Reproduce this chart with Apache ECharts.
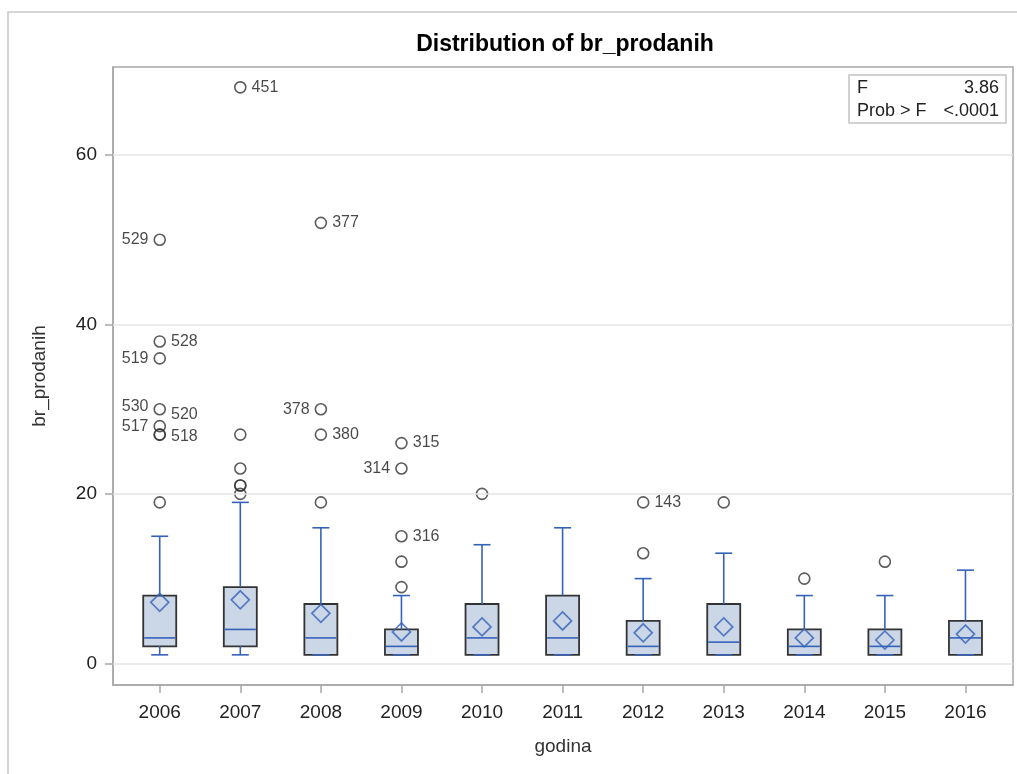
<!DOCTYPE html>
<html>
<head>
<meta charset="utf-8">
<title>Distribution of br_prodanih</title>
<script src="https://cdn.jsdelivr.net/npm/echarts@6/dist/echarts.min.js"></script>
<style>
  html, body { margin: 0; padding: 0; background: #fff; }
  #boxChart { width: 1017px; height: 774px; }
</style>
</head>
<body>
<div id="boxChart"></div>
<script>
// ---- data ----
const years = ['2006', '2007', '2008', '2009', '2010', '2011', '2012', '2013', '2014', '2015', '2016'];
const whiskerLow  = [1, 1, 1, 1, 1, 1, 1, 1, 1, 1, 1];
const q1          = [2, 2, 1, 1, 1, 1, 1, 1, 1, 1, 1];
const median      = [3, 4, 3, 2, 3, 3, 2, 2.5, 2, 2, 3];
const q3          = [8, 9, 7, 4, 7, 8, 5, 7, 4, 4, 5];
const whiskerHigh = [15, 19, 16, 8, 14, 16, 10, 13, 8, 8, 11];
const means       = [7.2, 7.5, 5.9, 3.7, 4.3, 5.0, 3.6, 4.3, 3.0, 2.75, 3.45];

// outliers: category index, value, observation id ('' = not labelled)
const outlierYear  = [0, 0, 0, 0, 0, 0, 0, 0, 1, 1, 1, 1, 1, 1, 2, 2, 2, 2, 3, 3, 3, 3, 3, 4, 6, 6, 7, 8, 9];
const outlierValue = [50, 38, 36, 30, 28, 27, 27, 19, 68, 27, 23, 21, 21, 20, 52, 30, 27, 19, 26, 23, 15, 12, 9, 20, 19, 13, 19, 10, 12];
const outlierId    = ['529', '528', '519', '530', '517', '520', '518', '', '451', '', '', '', '', '', '377', '378', '380', '', '315', '314', '316', '', '', '', '143', '', '', '', ''];

const yTicks = [0, 20, 40, 60];
const statNames  = ['F', 'Prob > F'];
const statValues = ['3.86', '<.0001'];

// ---- styling ----
const FONT = "'Liberation Sans', Arial, sans-serif";
const BLUE = '#3562b9';
const BOX_FILL = '#cbd6e6';
const BOX_EDGE = '#333333';
const AXIS_GRAY = '#a8a8a8';
const BOX_W = 33;
const CAP_W = 17;
// where SAS put each id label: side and vertical nudge
const labelPlace = {
  '529': ['left', 0], '528': ['right', 0], '519': ['left', 0], '530': ['left', -3],
  '520': ['right', -20], '517': ['left', 0], '518': ['right', 2], '451': ['right', 0],
  '377': ['right', 0], '378': ['left', 0], '380': ['right', 0], '315': ['right', 0],
  '314': ['left', 0], '316': ['right', 0], '143': ['right', 0]
};

const catIdx = years.map((y, i) => i);
const boxData = years.map((y, i) => [i, whiskerLow[i], q1[i], median[i], q3[i], whiskerHigh[i]]);
const meanData = means.map((m, i) => [i, m]);
const outlierData = outlierValue.map((v, k) => {
  const id = outlierId[k];
  const place = labelPlace[id] || ['right', 0];
  return {
    value: [outlierYear[k], v, id],
    label: { show: id !== '', position: place[0], distance: 5 }
  };
});

function renderBox(params, api) {
  const x = api.value(0);
  const pLow = api.coord([x, api.value(1)]);
  const pQ1 = api.coord([x, api.value(2)]);
  const pMed = api.coord([x, api.value(3)]);
  const pQ3 = api.coord([x, api.value(4)]);
  const pHigh = api.coord([x, api.value(5)]);
  const cx = pQ1[0];
  const hw = BOX_W / 2, cw = CAP_W / 2;
  const blue = { stroke: BLUE, lineWidth: 1.6 };
  return {
    type: 'group',
    children: [
      { type: 'rect', shape: { x: cx - hw, y: pQ3[1], width: BOX_W, height: pQ1[1] - pQ3[1] },
        style: { fill: BOX_FILL, stroke: BOX_EDGE, lineWidth: 1.8 } },
      { type: 'line', shape: { x1: cx, y1: pQ3[1], x2: cx, y2: pHigh[1] }, style: blue },
      { type: 'line', shape: { x1: cx, y1: pQ1[1], x2: cx, y2: pLow[1] }, style: blue },
      { type: 'line', shape: { x1: cx - cw, y1: pHigh[1], x2: cx + cw, y2: pHigh[1] }, style: blue },
      { type: 'line', shape: { x1: cx - cw, y1: pLow[1], x2: cx + cw, y2: pLow[1] }, style: blue },
      { type: 'line', shape: { x1: cx - hw + 1, y1: pMed[1], x2: cx + hw - 1, y2: pMed[1] }, style: blue }
    ]
  };
}

const chart = echarts.init(document.getElementById('boxChart'));
chart.setOption({
  animation: false,
  textStyle: { fontFamily: FONT },
  grid: {
    left: 113, right: 4, top: 67, bottom: 89,
    show: true, borderColor: AXIS_GRAY, borderWidth: 1.5, backgroundColor: '#fff'
  },
  xAxis: {
    type: 'value',
    min: -0.58,
    max: 10.59,
    name: 'godina',
    nameLocation: 'middle',
    nameGap: 52,
    nameTextStyle: { fontSize: 19, color: '#333', fontFamily: FONT },
    axisLine: { show: true, onZero: false, lineStyle: { color: AXIS_GRAY, width: 1.5 } },
    axisTick: { show: true, customValues: catIdx, length: 8, lineStyle: { color: AXIS_GRAY, width: 1.5 } },
    axisLabel: {
      customValues: catIdx,
      formatter: v => years[Math.round(v)],
      fontSize: 19, color: '#222', margin: 18, fontFamily: FONT
    },
    splitLine: { show: false }
  },
  yAxis: {
    type: 'value',
    min: -2.56,
    max: 70.4,
    name: 'br_prodanih',
    nameLocation: 'middle',
    nameGap: 64,
    nameTextStyle: { fontSize: 19, color: '#333', fontFamily: FONT },
    axisLine: { show: true, onZero: false, lineStyle: { color: AXIS_GRAY, width: 1.5 } },
    axisTick: { show: true, customValues: yTicks, length: 8, lineStyle: { color: AXIS_GRAY, width: 1.5 } },
    axisLabel: { customValues: yTicks, fontSize: 19, color: '#222', margin: 16, fontFamily: FONT },
    splitLine: { show: false }
  },
  graphic: [
    { type: 'polyline', z: 100, silent: true,
      shape: { points: [[8, 774], [8, 12], [1017, 12]] },
      style: { stroke: '#c8c8c8', lineWidth: 1.5, fill: null } },
    { type: 'text', z: 100, x: 565, y: 45,
      style: { text: 'Distribution of br_prodanih', font: "bold 23px " + FONT, fill: '#000',
               textAlign: 'center', textVerticalAlign: 'middle' } },
    { type: 'rect', z: 100, shape: { x: 849, y: 75, width: 157, height: 48 },
      style: { fill: '#fff', stroke: '#c4c4c4', lineWidth: 1.5 } },
    { type: 'text', z: 101, x: 857, y: 88,
      style: { text: statNames[0], font: "18px " + FONT, fill: '#222', textVerticalAlign: 'middle' } },
    { type: 'text', z: 101, x: 999, y: 88,
      style: { text: statValues[0], font: "18px " + FONT, fill: '#222', textAlign: 'right', textVerticalAlign: 'middle' } },
    { type: 'text', z: 101, x: 857, y: 111,
      style: { text: statNames[1], font: "18px " + FONT, fill: '#222', textVerticalAlign: 'middle' } },
    { type: 'text', z: 101, x: 999, y: 111,
      style: { text: statValues[1], font: "18px " + FONT, fill: '#222', textAlign: 'right', textVerticalAlign: 'middle' } }
  ],
  series: [
    {
      // reference lines at the y ticks
      type: 'scatter',
      data: [],
      z: 1,
      silent: true,
      markLine: {
        silent: true,
        symbol: ['none', 'none'],
        label: { show: false },
        lineStyle: { color: '#e4e4e4', width: 1.6, type: 'solid' },
        data: yTicks.map(v => ({ yAxis: v }))
      }
    },
    {
      type: 'custom',
      z: 2,
      encode: { x: 0, y: [1, 2, 3, 4, 5] },
      renderItem: renderBox,
      data: boxData
    },
    {
      type: 'scatter',
      z: 3,
      symbol: 'diamond',
      symbolSize: 18,
      itemStyle: { color: 'rgba(0,0,0,0)', borderColor: BLUE, borderWidth: 1.7 },
      data: meanData
    },
    {
      type: 'scatter',
      z: 4,
      symbol: 'circle',
      symbolSize: 11,
      itemStyle: { color: 'rgba(0,0,0,0)', borderColor: '#333', borderWidth: 1.6 },
      label: {
        formatter: p => p.value[2],
        fontSize: 16,
        color: '#1a1a1a',
        fontFamily: FONT
      },
      labelLayout: function (params) {
        const place = labelPlace[outlierId[params.dataIndex]];
        return { hideOverlap: false, dy: place ? place[1] : 0 };
      },
      data: outlierData
    }
  ]
});
</script>
</body>
</html>
